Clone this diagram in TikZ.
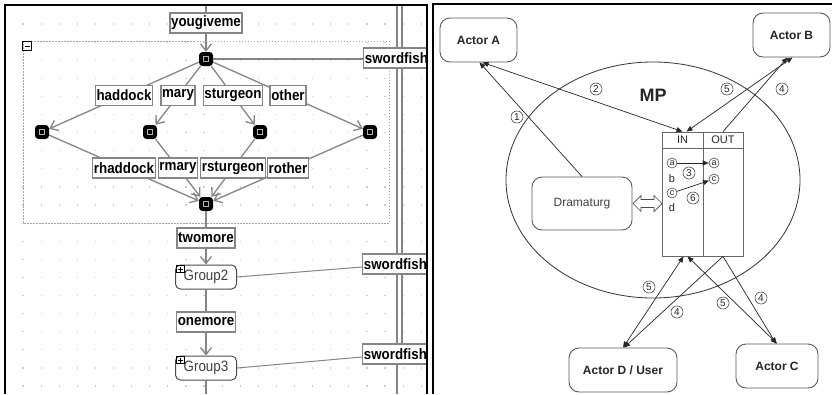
\documentclass[tikz,border=0pt]{standalone}
\usepackage{fontspec}
\setmainfont{Liberation Sans}
\newfontfamily\lblfont[FakeStretch=0.89]{Liberation Sans}
\usetikzlibrary{arrows.meta,calc}
\definecolor{lgray}{HTML}{858585}
\tikzset{
 lbl/.style={draw=lgray, line width=1.4, fill=white, inner xsep=1.2, inner ysep=0, minimum height=20, font=\lblfont\fontsize{15}{15}\selectfont\bfseries, text=black},
 bar/.style={fill=black, rounded corners=3.5, minimum size=14, inner sep=0, path picture={\draw[gray!60, line width=0.6, sharp corners] ($(path picture bounding box.center)+(-2.5,-2.5)$) rectangle ++(5,5);}},
 gl/.style={draw=lgray, line width=1.3},
 garr/.style={gl, -{Straight Barb[length=7,width=11]}},
 grp/.style={draw=black!70, rounded corners=5, fill=white, line width=1, minimum width=61, minimum height=24, inner sep=0, font=\lblfont\fontsize{15}{15}\selectfont, text=black!75},
 actor/.style={draw=black!65, rounded corners=10, fill=white, line width=0.9, minimum height=44, inner sep=0, font=\fontsize{12}{12}\selectfont\bfseries, text=black!85},
 cell/.style={draw=black!60, fill=white, line width=0.8, inner sep=0, font=\fontsize{11}{11}\selectfont, text=black!85},
 cn/.style={circle, draw=black!70, line width=0.6, minimum size=12, inner sep=0, font=\fontsize{10}{10}\selectfont, fill=white, text=black!85},
 cl/.style={cn, minimum size=10, font=\fontsize{9}{9}\selectfont},
 itm/.style={inner sep=0, font=\fontsize{11}{11}\selectfont, text=black!85},
 rl/.style={draw=black!85, line width=0.7},
 rarr/.style={rl, -{Triangle[length=6,width=5]}},
 rdarr/.style={rl, {Triangle[length=6,width=5]}-{Triangle[length=6,width=5]}},
}
\begin{document}
\begin{tikzpicture}[x=1pt,y=-1pt]
\useasboundingbox (0,0) rectangle (832,394);
\fill[white] (0,0) rectangle (832,394);

% ---------------- left panel ----------------
\begin{scope}
\clip (5,5) rectangle (427,394);
\foreach \i in {0,...,22} {
  \foreach \j in {0,...,20} {
    \fill[gray!40] ({23+18.1*\i-0.6},{24+18.1*\j-0.6}) rectangle ++(1.2,1.2);
  }
}
\draw[lgray, line width=1.5] (397,5) -- (397,394);
\draw[lgray, line width=1.5] (402,5) -- (402,354);
% group frame
\draw[gray!70, line width=0.6, dash pattern=on 1.5pt off 1.5pt] (23,41) rectangle (389,223);
\draw[black, line width=0.8] (22.5,41.5) rectangle (31.5,50.5);
\draw[black, line width=0.8] (24.5,46) -- (29.5,46);

\coordinate (top) at (206,5);
\coordinate (bot) at (206,394);
\node[lbl] (yg) at (206,23) {yougiveme};
\node[bar] (f) at (206,59) {};
\node[bar] (m1) at (42,132) {};
\node[bar] (m2) at (150,132) {};
\node[bar] (m3) at (260,132) {};
\node[bar] (m4) at (370,132) {};
\node[bar] (j) at (206,204) {};
\node[lbl] (tw) at (206,238) {twomore};
\node[grp] (g2) at (206,277) {\raisebox{-1.5pt}{Group2}};
\node[lbl] (om) at (206,322) {onemore};
\node[grp] (g3) at (206,368) {\raisebox{-1.5pt}{Group3}};
\foreach \g in {g2,g3} {
  \draw[black, line width=0.7] ($(\g.north west)+(1,1)$) rectangle ++(8,7);
  \draw[black, line width=0.7] ($(\g.north west)+(2.5,4.5)$) -- ++(5,0);
  \draw[black, line width=0.7] ($(\g.north west)+(5,2)$) -- ++(0,5);
}

\draw[gl] (top) -- (yg);
\draw[garr] (yg) -- (f);
\draw[gl] (f) -- (f -| 363,0);
\draw[garr] (f) -- node[lbl]{haddock} (m1);
\draw[garr] (f) -- node[lbl]{mary} (m2);
\draw[garr] (f) -- node[lbl]{sturgeon} (m3);
\draw[garr] (f) -- node[lbl]{other} (m4);
\draw[garr] (m1) -- node[lbl]{rhaddock} (j);
\draw[garr] (m2) -- node[lbl]{rmary} (j);
\draw[garr] (m3) -- node[lbl]{rsturgeon} (j);
\draw[garr] (m4) -- node[lbl]{rother} (j);
\draw[gl] (j) -- (tw);
\draw[garr] (tw) -- (g2);
\draw[gl] (g2) -- (om);
\draw[garr] (om) -- (g3);
\draw[gl] (g3) -- (bot);

\node[lbl, anchor=west] (s1) at (363,58) {swordfish};
\node[lbl, anchor=west] (s2) at (362,264) {swordfish};
\node[lbl, anchor=west] (s3) at (362,354) {swordfish};
\draw[gl, line width=1] (g2.east) -- ($(s2.west)+(0,3)$);
\draw[gl, line width=1] (g3.east) -- ($(s3.west)+(0,3)$);
\end{scope}
\draw[black, line width=1.2] (5,394) -- (5,5) -- (427,5) -- (427,394);

% ---------------- right panel ----------------
\draw[black, line width=1.2] (433,394) -- (433,4) -- (832,4);
\draw[black!80, line width=0.8] (653,180) ellipse [x radius=147, y radius=118];
\node[font=\fontsize{18}{18}\selectfont\bfseries, text=black!85] (mp) at (653,95) {MP};

\node[actor, minimum width=77] (A) at (478.5,40) {Actor A};
\node[actor, minimum width=77] (B) at (791.5,35) {Actor B};
\node[actor, minimum width=108] (D) at (623,370) {Actor D / User};
\node[actor, minimum width=82] (C) at (777,366) {Actor C};
\node[actor, minimum width=100, minimum height=53, font=\fontsize{12}{12}\selectfont, text=black!75] (Dr) at (582,203.5) {Dramaturg};

\node[cell, minimum width=41, minimum height=16] (inh) at (682.5,140) {IN};
\node[cell, minimum width=40, minimum height=16] (outh) at (723,140) {OUT};
\node[cell, minimum width=41, minimum height=108] (inb) at (682.5,202) {};
\node[cell, minimum width=40, minimum height=108] (outb) at (723,202) {};

\node[cl] (a1) at (672,163) {a};
\node[itm] (b) at (672,179) {b};
\node[cl] (c1) at (672,193) {c};
\node[itm] (d) at (672,208) {d};
\node[cl] (a2) at (714,163) {a};
\node[cl] (c2) at (714,179) {c};
\node[cn] (n3) at (689,173) {3};
\node[cn] (n6) at (693,198) {6};
\draw[rarr] (a1) -- (a2);
\draw[rarr] (c1) -- (c2);

% hollow double arrow
\draw[black!70, fill=white, line width=0.7] (633,203.5) -- (641,195.5) -- (641,199.5) -- (654,199.5) -- (654,195.5) -- (662,203.5) -- (654,211.5) -- (654,207.5) -- (641,207.5) -- (641,211.5) -- cycle;

% connectors
\draw[rarr] (Dr.north) -- ($(A.south)+(1,0)$);
\draw[rdarr] ($(A.south)+(4,0)$) -- (inh.north);
\draw[rdarr] ($(B.south)+(1,0)$) -- ($(inh.north)+(4,0)$);
\draw[rarr] (outh.north) -- ($(B.south)+(-4,0)$);
\draw[rdarr] (D.north) -- ($(inb.south)+(1,0)$);
\draw[rarr] (outb.south) -- ($(D.north)+(1,0)$);
\draw[rdarr] ($(inb.south)+(5,0)$) -- (C.north);
\draw[rarr] (outb.south) -- ($(C.north)+(-1,0)$);

\node[cn] (l1) at (517,117) {1};
\node[cn] (l2) at (596,89) {2};
\node[cn] (l5a) at (727,89) {5};
\node[cn] (l4a) at (782,89) {4};
\node[cn] (l5b) at (649,287) {5};
\node[cn] (l4b) at (677,312) {4};
\node[cn] (l5c) at (723,303) {5};
\node[cn] (l4c) at (761,298) {4};
\end{tikzpicture}
\end{document}
